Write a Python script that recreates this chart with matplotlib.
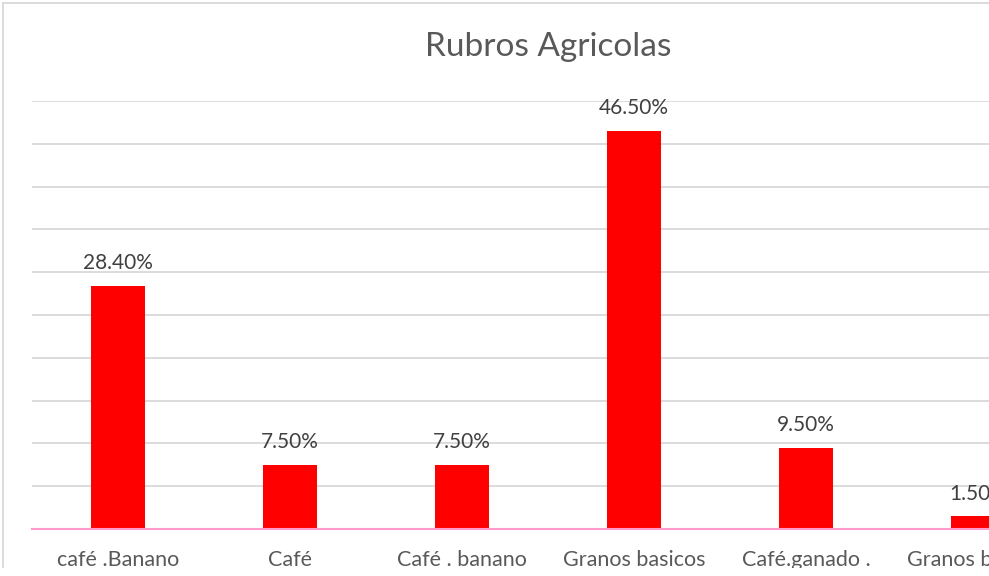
import matplotlib
matplotlib.use('Agg')
import matplotlib.pyplot as plt
from matplotlib.lines import Line2D
from matplotlib.patches import Rectangle

plt.rcParams['font.family'] = ['Lato', 'DejaVu Sans']

categorias = ['café .Banano', 'Café', 'Café . banano', 'Granos basicos',
              'Café.ganado .', 'Granos basicos']
valores = [0.284, 0.075, 0.075, 0.465, 0.095, 0.015]
etiquetas = ['28.40%', '7.50%', '7.50%', '46.50%', '9.50%', '1.50%']

W, H = 989, 576
gris = '#595959'

fig = plt.figure(figsize=(W / 100, H / 100), dpi=100)
# el grafico original esta recortado a la derecha: el eje sigue fuera de la imagen
ax = fig.add_axes([32 / W, 47 / H, 1032 / W, 428 / H])

x = list(range(len(categorias)))
ax.bar(x, valores, width=0.314, color='#FF0000', zorder=3)
for xi, v, t in zip(x, valores, etiquetas):
    ax.annotate(t, (xi, v), xytext=(0, 9), textcoords='offset points',
                ha='center', va='bottom', fontsize=15, color='#404040')

ax.set_xlim(-0.5, len(categorias) - 0.5)
ax.set_ylim(0, 0.5)
ax.set_yticks([i * 0.05 for i in range(11)])
ax.set_yticklabels([])
ax.tick_params(axis='y', length=0)
ax.grid(axis='y', color='#D9D9D9', linewidth=1.3, zorder=0)
ax.set_xticks(x)
ax.set_xticklabels(categorias, fontsize=15.5, color=gris)
ax.tick_params(axis='x', length=0, pad=15)
for s in ['top', 'right', 'left']:
    ax.spines[s].set_visible(False)
ax.spines['bottom'].set_color('#FF99CC')
ax.spines['bottom'].set_linewidth(1.5)
ax.spines['bottom'].set_zorder(4)

fig.text(548 / W, 1 - 47 / H, 'Rubros Agricolas', ha='center', va='center',
         fontsize=24, color=gris)

# borde del area del grafico
fig.add_artist(Line2D([2.5 / W, 2.5 / W], [1 - 567 / H, 1 - 2.5 / H],
                      color='#D9D9D9', linewidth=1.3))
fig.add_artist(Line2D([2.5 / W, 1], [1 - 2.5 / H, 1 - 2.5 / H],
                      color='#D9D9D9', linewidth=1.3))
# recorte inferior de la imagen original
fig.add_artist(Rectangle((0, 0), 1, 8 / H, transform=fig.transFigure,
                         facecolor='white', edgecolor='none', zorder=10))

fig.savefig('out.png', dpi=100)
